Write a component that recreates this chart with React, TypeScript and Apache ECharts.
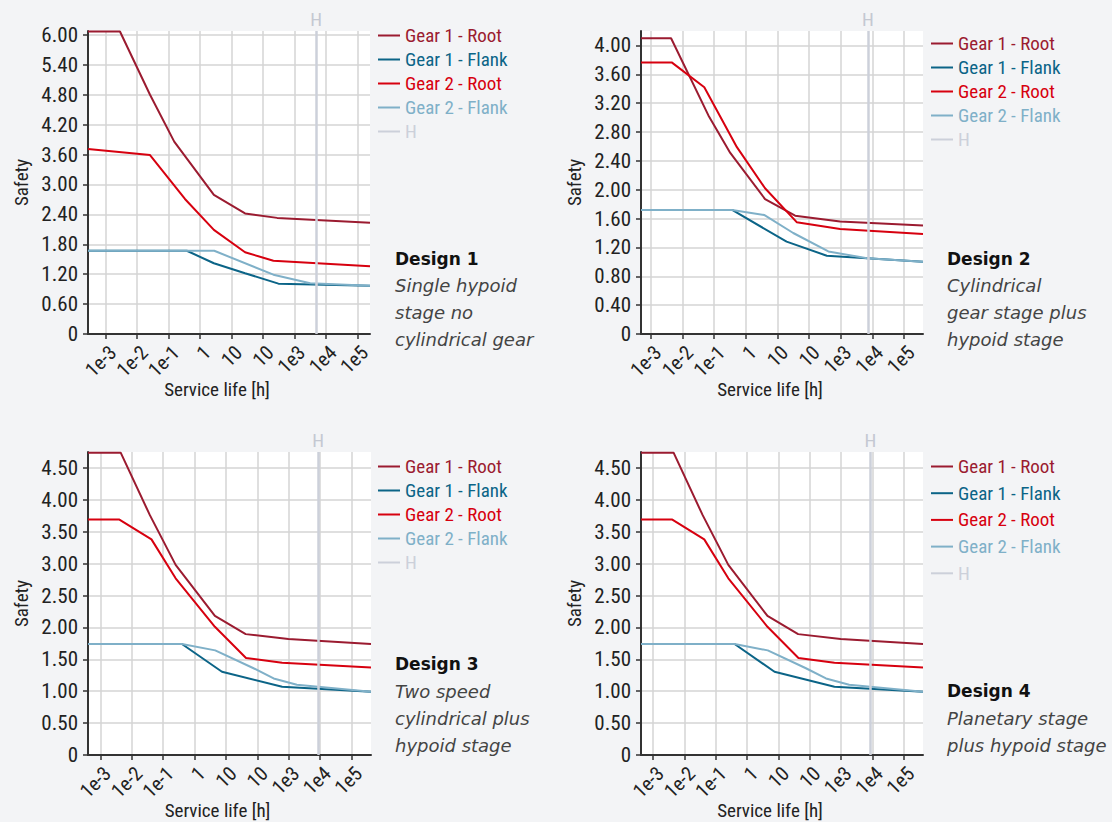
import React, { useEffect, useRef } from 'react';
import * as echarts from 'echarts';

// ---------- shared labels ----------
const xTickLabels = ['1e-3', '1e-2', '1e-1', '1', '10', '10', '1e3', '1e4', '1e5'];
const xTickValues = [0.001, 0.01, 0.1, 1, 10, 100, 1000, 10000, 100000];
const seriesNames = ['Gear 1 - Root', 'Gear 1 - Flank', 'Gear 2 - Root', 'Gear 2 - Flank', 'H'];
const seriesColors = ['#9b1b30', '#0b6487', '#d7000f', '#7fb0c8', '#ccd0da'];
const xAxisName = 'Service life [h]';
const yAxisName = 'Safety';

// ---------- Design 1 ----------
const d1Root1 = [[0.000275, 6.07], [0.00285, 6.07], [0.0257, 4.8], [0.151, 3.86], [2.75, 2.79], [26.9, 2.42], [282, 2.33], [251000, 2.23]];
const d1Flank1 = [[0.000275, 1.67], [0.38, 1.67], [2.75, 1.42], [26.9, 1.22], [309, 1.01], [251000, 0.97]];
const d1Root2 = [[0.000275, 3.71], [0.0257, 3.59], [0.331, 2.71], [2.75, 2.09], [26.9, 1.64], [214, 1.47], [251000, 1.36]];
const d1Flank2 = [[0.000275, 1.67], [2.82, 1.67], [214, 1.19], [3160, 1.02], [251000, 0.97]];
const d1H = 4900;
const d1XRange = [0.000275, 251000];
const d1YMax = 6.08;
const d1YStep = 0.3;
const d1YTicks = [0, 0.6, 1.2, 1.8, 2.4, 3.0, 3.6, 4.2, 4.8, 5.4, 6.0];

// ---------- Design 2 ----------
const d2Root1 = [[0.00049, 4.1], [0.00437, 4.1], [0.0661, 3.03], [0.324, 2.51], [4.07, 1.87], [36.3, 1.64], [955, 1.56], [398000, 1.505]];
const d2Flank1 = [[0.00049, 1.72], [0.372, 1.72], [19.5, 1.28], [363, 1.085], [398000, 1.0]];
const d2Root2 = [[0.00049, 3.765], [0.00457, 3.765], [0.049, 3.42], [0.525, 2.59], [4.07, 2.02], [40.7, 1.55], [955, 1.455], [398000, 1.386]];
const d2Flank2 = [[0.00049, 1.72], [0.372, 1.72], [3.8, 1.65], [31.6, 1.4], [407, 1.145], [6760, 1.05], [398000, 1.0]];
const d2H = 7240;
const d2XRange = [0.00049, 398000];
const d2YMax = 4.2;
const d2YStep = 0.2;
const d2YTicks = [0, 0.4, 0.8, 1.2, 1.6, 2.0, 2.4, 2.8, 3.2, 3.6, 4.0];

// ---------- Design 3 & 4 (identical curves) ----------
const d3Root1 = [[0.000407, 4.74], [0.00447, 4.74], [0.038, 3.76], [0.251, 2.98], [4.47, 2.18], [42.7, 1.895], [977, 1.82], [417000, 1.74]];
const d3Flank1 = [[0.000407, 1.74], [0.398, 1.74], [7.5, 1.305], [617, 1.07], [417000, 0.99]];
const d3Root2 = [[0.000407, 3.69], [0.00407, 3.69], [0.0427, 3.38], [0.251, 2.77], [4.47, 2.01], [43.7, 1.52], [617, 1.445], [417000, 1.37]];
const d3Flank2 = [[0.000407, 1.74], [0.398, 1.74], [4.57, 1.64], [75.9, 1.36], [331, 1.2], [1820, 1.1], [417000, 0.99]];
const d3H = 8700;
const d3XRange = [0.000407, 417000];
const d3YMax = 4.75;
const d3YStep = 0.25;
const d3YTicks = [0, 0.5, 1.0, 1.5, 2.0, 2.5, 3.0, 3.5, 4.0, 4.5];

// ---------- design captions ----------
const designTitles = ['Design 1', 'Design 2', 'Design 3', 'Design 4'];
const designDescriptions = [
  ['Single hypoid', 'stage no', 'cylindrical gear'],
  ['Cylindrical', 'gear stage plus', 'hypoid stage'],
  ['Two speed', 'cylindrical plus', 'hypoid stage'],
  ['Planetary stage', 'plus hypoid stage'],
];

const NARROW = "'Liberation Sans Narrow', 'Roboto Condensed', 'Arial Narrow', Roboto, sans-serif";
const CAPTION = "'DejaVu Sans', 'Open Sans', sans-serif";

const panels = [
  { left: 88, top: 31, width: 282, height: 303, data: [d1Root1, d1Flank1, d1Root2, d1Flank2], h: d1H, xr: d1XRange, yMax: d1YMax, yStep: d1YStep, yTicks: d1YTicks, legend: { left: 378, top: 26, gap: 5 }, caption: { x: 395, y: 261, gap: 26.7 } },
  { left: 641, top: 31, width: 282, height: 303, data: [d2Root1, d2Flank1, d2Root2, d2Flank2], h: d2H, xr: d2XRange, yMax: d2YMax, yStep: d2YStep, yTicks: d2YTicks, legend: { left: 931, top: 34, gap: 5 }, caption: { x: 947, y: 261, gap: 26.7 } },
  { left: 88, top: 452, width: 283, height: 303, data: [d3Root1, d3Flank1, d3Root2, d3Flank2], h: d3H, xr: d3XRange, yMax: d3YMax, yStep: d3YStep, yTicks: d3YTicks, legend: { left: 378, top: 457, gap: 5 }, caption: { x: 395, y: 666, gap: 27 } },
  { left: 641, top: 452, width: 282, height: 303, data: [d3Root1, d3Flank1, d3Root2, d3Flank2], h: d3H, xr: d3XRange, yMax: d3YMax, yStep: d3YStep, yTicks: d3YTicks, legend: { left: 931, top: 457, gap: 7.7 }, caption: { x: 947, y: 693, gap: 27 } },
];

const fmtX = (v: number) => {
  const e = Math.log10(v);
  const r = Math.round(e);
  if (Math.abs(e - r) > 0.01) return '';
  return xTickLabels[r + 3] ?? '';
};

function buildOption() {
  const grid: any[] = [];
  const xAxis: any[] = [];
  const yAxis: any[] = [];
  const series: any[] = [];
  const legend: any[] = [];
  const graphic: any[] = [];

  panels.forEach((p, i) => {
    grid.push({
      left: p.left, top: p.top, width: p.width, height: p.height,
      show: true, backgroundColor: '#ffffff', borderWidth: 0,
      containLabel: false, outerBoundsMode: 'none',
    });
    xAxis.push({
      type: 'log', logBase: 10, gridIndex: i, min: p.xr[0], max: p.xr[1],
      axisLine: { show: true, onZero: false, lineStyle: { color: '#333', width: 2 } },
      axisTick: { show: true, length: 5, customValues: xTickValues, lineStyle: { color: '#333', width: 1.5 } },
      axisLabel: { rotate: 45, formatter: fmtX, fontSize: 20, color: '#222', fontFamily: NARROW, margin: 8, verticalAlign: 'top' },
      splitLine: { show: true, lineStyle: { color: '#d4d4d4', width: 1.5 } },
      name: xAxisName, nameLocation: 'middle', nameGap: 46, nameMoveOverlap: false,
      nameTextStyle: { fontSize: 19, color: '#222', fontFamily: NARROW, padding: [0, 24, 0, 0] },
    });
    const majors = p.yTicks;
    yAxis.push({
      type: 'value', gridIndex: i, min: 0, max: p.yMax, interval: p.yStep,
      axisLine: { show: true, lineStyle: { color: '#333', width: 2 } },
      axisTick: { show: true, length: 5, customValues: majors, lineStyle: { color: '#333', width: 1.5 } },
      axisLabel: {
        customValues: majors, fontSize: 21, color: '#222', fontFamily: NARROW, margin: 10,
        formatter: (v: number) => {
          if (v === 0) return '0';
          const isMajor = majors.some((m) => Math.abs(m - v) < 1e-6);
          return isMajor ? v.toFixed(2) : '';
        },
      },
      splitLine: { show: true, lineStyle: { color: '#d4d4d4', width: 1.5 } },
      name: yAxisName, nameLocation: 'middle', nameGap: 57, nameMoveOverlap: false,
      nameTextStyle: { fontSize: 19, color: '#222', fontFamily: NARROW },
    });
    p.data.forEach((d, k) => {
      series.push({
        type: 'line', name: seriesNames[k], xAxisIndex: i, yAxisIndex: i, data: d,
        showSymbol: false, symbol: 'none', silent: true,
        lineStyle: { color: seriesColors[k], width: 2 }, itemStyle: { color: seriesColors[k] }, z: 3,
      });
    });
    series.push({
      type: 'line', name: seriesNames[4], xAxisIndex: i, yAxisIndex: i, data: [],
      showSymbol: false, symbol: 'none', silent: true,
      lineStyle: { color: seriesColors[4], width: 2 }, itemStyle: { color: seriesColors[4] }, z: 2,
      markLine: {
        silent: true, symbol: ['none', 'none'],
        lineStyle: { color: seriesColors[4], width: 2.5, type: 'solid' },
        label: { show: true, position: 'end', formatter: 'H', color: '#c4c8d2', fontSize: 19, fontFamily: NARROW, distance: 2 },
        data: [{ xAxis: p.h }],
      },
    });
    legend.push({
      orient: 'vertical', left: p.legend.left, top: p.legend.top, padding: 0,
      itemGap: p.legend.gap, itemWidth: 22, itemHeight: 2, icon: 'rect',
      selectedMode: false,
      textStyle: { fontSize: 19, lineHeight: 19, fontFamily: NARROW },
      data: seriesNames.map((n, k) => ({ name: n, textStyle: { color: seriesColors[k] } })),
    });
    const c = p.caption;
    graphic.push({
      type: 'text', left: c.x, top: c.y - 11,
      style: { text: designTitles[i], fontSize: 17, fontWeight: 'bold', fill: '#111', fontFamily: CAPTION },
    });
    designDescriptions[i].forEach((line, j) => {
      graphic.push({
        type: 'text', left: c.x, top: c.y + c.gap * (j + 1) - 11,
        style: { text: line, fontSize: 18, fontStyle: 'italic', fill: '#444', fontFamily: CAPTION },
      });
    });
  });

  return {
    animation: false,
    backgroundColor: '#f3f4f6',
    grid, xAxis, yAxis, series, legend, graphic,
  };
}

export default function App() {
  const ref = useRef<HTMLDivElement>(null);
  useEffect(() => {
    if (!ref.current) return;
    const chart = echarts.init(ref.current, undefined, { renderer: 'svg' });
    chart.setOption(buildOption() as any);
    return () => chart.dispose();
  }, []);
  return <div ref={ref} style={{ position: 'fixed', left: 0, top: 0, width: 1112, height: 822 }} />;
}
